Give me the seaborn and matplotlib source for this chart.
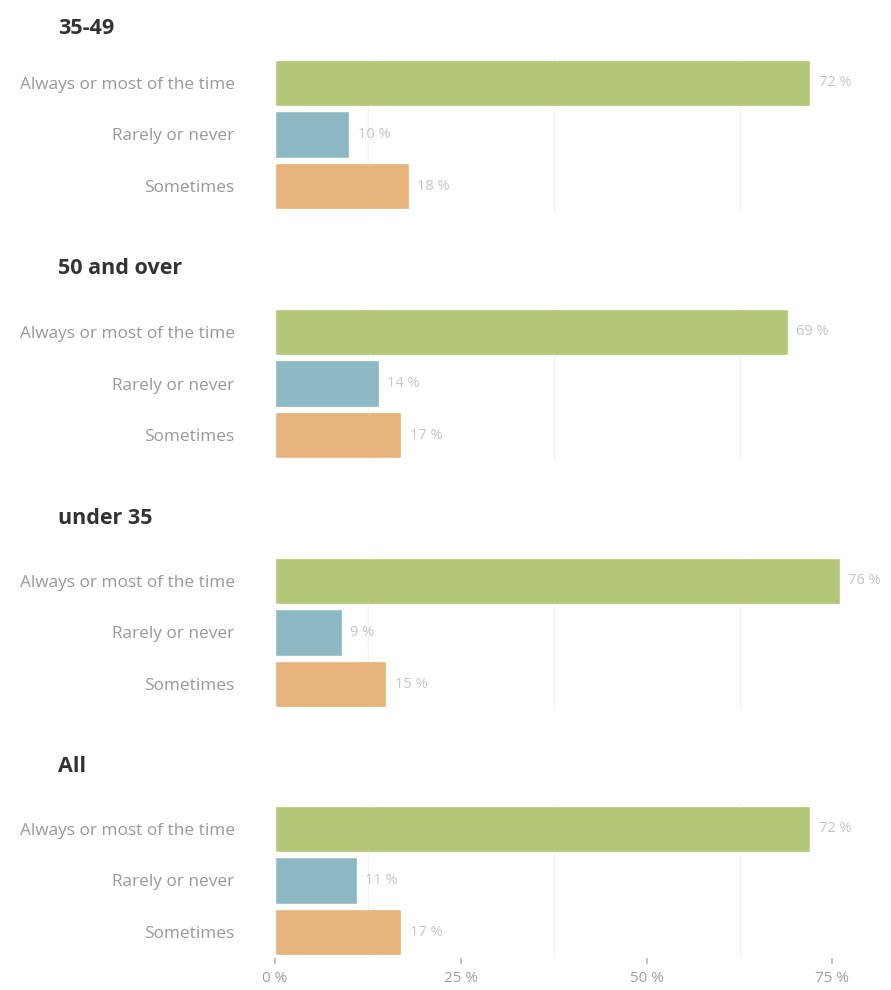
import matplotlib
matplotlib.use("Agg")
import matplotlib.pyplot as plt
import seaborn as sns
import pandas as pd

# Survey answers by age group
groups = ["35-49", "50 and over", "under 35", "All"]
answers = ["Always or most of the time", "Rarely or never", "Sometimes"]
share_35_49 = [72, 10, 18]
share_50_over = [69, 14, 17]
share_under_35 = [76, 9, 15]
share_all = [72, 11, 17]
x_ticks = [0, 25, 50, 75]
x_tick_labels = ["0 %", "25 %", "50 %", "75 %"]

colors = ["#b3c776", "#8cb9c3", "#e6b47b"]
series = [share_35_49, share_50_over, share_under_35, share_all]

sns.set_theme(style="white")
plt.rcParams["font.family"] = ["Open Sans", "DejaVu Sans"]

W, H = 891, 990
fig = plt.figure(figsize=(W / 100, H / 100), dpi=100)

x0, x1 = 275, 857
xmax = 78.3
panel_tops = [57, 306, 555, 803]
panel_h = 155
title_y = [28, 269, 518, 767]

for i, (grp, vals) in enumerate(zip(groups, series)):
    ax = fig.add_axes([x0 / W, 1 - (panel_tops[i] + panel_h) / H,
                       (x1 - x0) / W, panel_h / H])
    df = pd.DataFrame({"answer": answers, "share": vals})
    sns.barplot(data=df, x="share", y="answer", hue="answer",
                palette=colors, width=0.9, ax=ax, legend=False,
                saturation=1)
    ax.set_xlim(0, xmax)
    ax.set_xlabel("")
    ax.set_ylabel("")
    for s in ax.spines.values():
        s.set_visible(False)
    ax.set_xticks([12.5, 37.5, 62.5], minor=True)
    ax.grid(True, axis="x", which="minor", color="#f3f3f3", linewidth=1)
    ax.set_axisbelow(True)
    ax.tick_params(axis="y", length=0, pad=29, labelsize=12.4, labelcolor="#999999")
    for c in ax.containers:
        ax.bar_label(c, labels=[f"{int(v)} %" for v in c.datavalues], padding=6,
                     fontsize=10.5, color="#c6c6c6")
    if i < len(groups) - 1:
        ax.set_xticks([])
    else:
        ax.set_xticks(x_ticks)
        ax.set_xticklabels(x_tick_labels)
        ax.tick_params(axis="x", length=4, color="#bbbbbb", labelsize=11,
                       labelcolor="#a0a0a0", pad=5, bottom=True)
    ax.tick_params(axis="x", which="minor", length=0)
    fig.text(58 / W, 1 - title_y[i] / H, grp, fontsize=15.5, fontweight="bold",
             color="#333333", va="center", ha="left")

fig.savefig("out.png", dpi=100, facecolor="white")
